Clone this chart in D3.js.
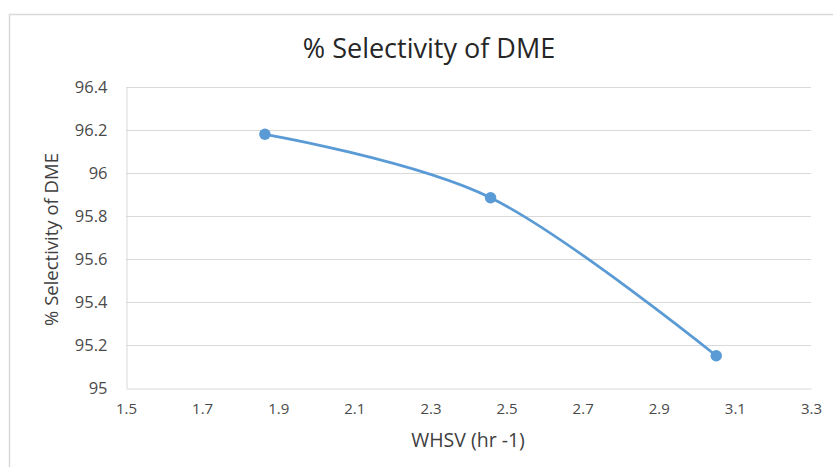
<!DOCTYPE html>
<html>
<head>
<meta charset="utf-8">
<script src="https://cdn.jsdelivr.net/npm/d3@7"></script>
<style>
  html, body { margin: 0; padding: 0; background: #fff; }
  svg { display: block; font-family: "Open Sans", Lato, sans-serif; }
</style>
</head>
<body>
<svg id="chart" width="833" height="467"></svg>
<script>
// WHSV (hr^-1) against DME selectivity (%)
const whsv = [1.865, 2.458, 3.051];
const selectivity = [96.18, 95.885, 95.15];
const xTicks = [1.5, 1.7, 1.9, 2.1, 2.3, 2.5, 2.7, 2.9, 3.1, 3.3];
const yTicks = [95, 95.2, 95.4, 95.6, 95.8, 96, 96.2, 96.4];

const svg = d3.select("#chart");
const W = 833, H = 467;
const plot = { left: 126, right: 811, top: 87, bottom: 388 };
const blue = "#5B9BD5";

// chart frame
svg.append("rect")
  .attr("x", 9.5).attr("y", 14.5)
  .attr("width", W + 10).attr("height", H + 10)
  .attr("fill", "#fff").attr("stroke", "#d9d9d9").attr("stroke-width", 1.5);

const x = d3.scaleLinear().domain([1.5, 3.3]).range([plot.left, plot.right]);
const y = d3.scaleLinear().domain([95, 96.4]).range([plot.bottom, plot.top]);

// horizontal gridlines
svg.append("g")
  .selectAll("line")
  .data(yTicks.filter(t => t !== 95))
  .join("line")
  .attr("x1", plot.left).attr("x2", plot.right)
  .attr("y1", d => Math.round(y(d)) + 0.5).attr("y2", d => Math.round(y(d)) + 0.5)
  .attr("stroke", "#d9d9d9").attr("stroke-width", 1);

// axes
const xAxis = svg.append("g")
  .attr("transform", `translate(0,${Math.round(y(95)) + 0.5})`)
  .call(d3.axisBottom(x).tickValues(xTicks).tickSize(0).tickPadding(15).tickFormat(d3.format(".1f")));
xAxis.select(".domain").attr("stroke", "#d9d9d9").attr("stroke-width", 1);
xAxis.selectAll("text").attr("font-size", 15).attr("fill", "#4a4a4a").attr("font-family", "'Open Sans', sans-serif");

const yAxis = svg.append("g")
  .attr("transform", `translate(${plot.left + 0.5},0)`)
  .call(d3.axisLeft(y).tickValues(yTicks).tickSize(0).tickPadding(19).tickFormat(d => +d.toFixed(1)));
yAxis.select(".domain").attr("stroke", "#d9d9d9").attr("stroke-width", 1);
yAxis.selectAll("text").attr("font-size", 16.5).attr("fill", "#4a4a4a").attr("font-family", "'Open Sans', sans-serif");

// title and axis titles
svg.append("text")
  .attr("x", 429).attr("y", 58)
  .attr("text-anchor", "middle").attr("font-size", 27).attr("fill", "#262626")
  .text("% Selectivity of DME");

svg.append("text")
  .attr("x", 468).attr("y", 447)
  .attr("text-anchor", "middle").attr("font-size", 19.5).attr("fill", "#404040")
  .text("WHSV (hr -1)");

svg.append("text")
  .attr("transform", `translate(58,${(plot.top + plot.bottom) / 2 + 2}) rotate(-90)`)
  .attr("text-anchor", "middle").attr("font-size", 18.5).attr("fill", "#404040")
  .text("% Selectivity of DME");

// smoothed series line
const pts = whsv.map((v, i) => [v, selectivity[i]]);
const line = d3.line()
  .x(d => x(d[0])).y(d => y(d[1]))
  .curve(d3.curveCardinal.tension(0));

svg.append("path")
  .datum(pts)
  .attr("d", line)
  .attr("fill", "none").attr("stroke", blue)
  .attr("stroke-width", 2.75).attr("stroke-linecap", "round");

svg.append("g")
  .selectAll("circle")
  .data(pts)
  .join("circle")
  .attr("cx", d => x(d[0])).attr("cy", d => y(d[1]))
  .attr("r", 5.75).attr("fill", blue);
</script>
</body>
</html>
